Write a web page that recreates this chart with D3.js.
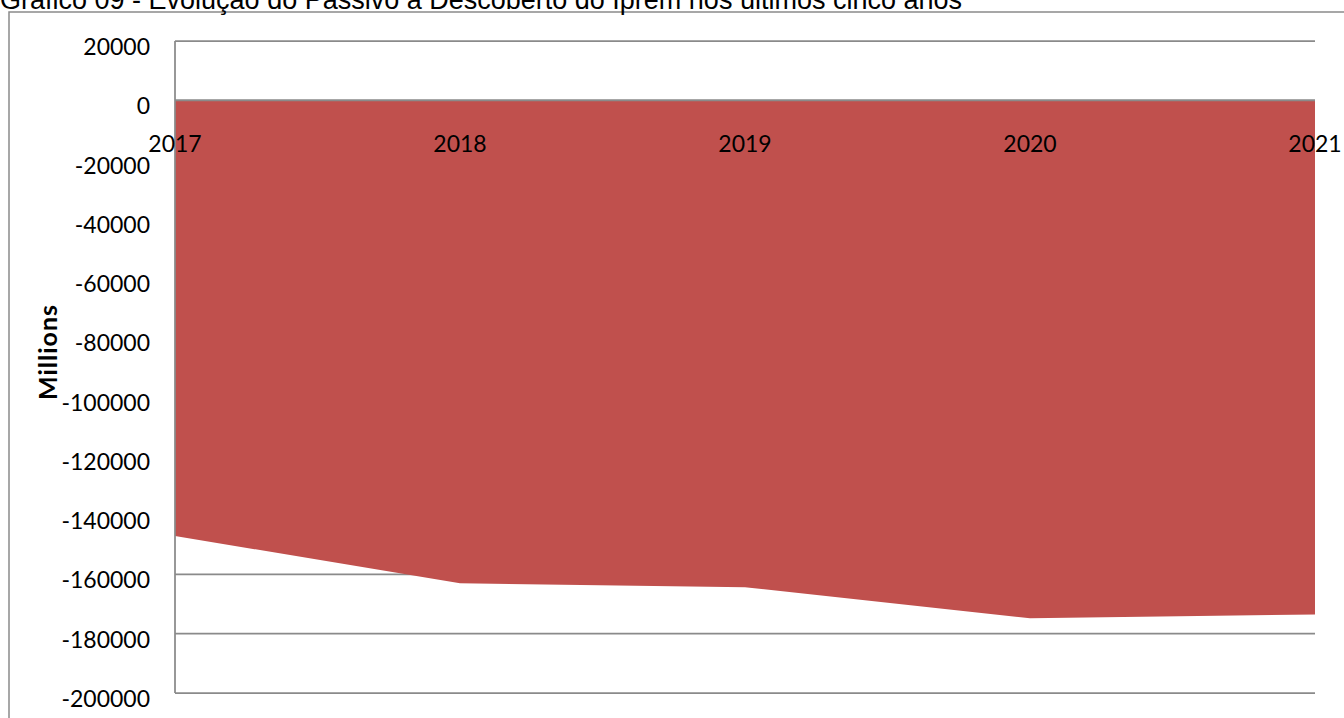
<!DOCTYPE html>
<html>
<head>
<meta charset="utf-8">
<script src="https://cdn.jsdelivr.net/npm/d3@7"></script>
<style>
  html, body { margin: 0; padding: 0; background: #fff; overflow: hidden; }
  svg { display: block; }
</style>
</head>
<body>
<script>
// Passivo a descoberto (em milhões), 2017–2021
const years = ["2017", "2018", "2019", "2020", "2021"];
const passivo = [-147000, -163000, -164300, -174800, -173500];
const yTicks = [20000, 0, -20000, -40000, -60000, -80000, -100000, -120000, -140000, -160000, -180000, -200000];
const titleText = "Gráfico 09 - Evolução do Passivo a Descoberto do Iprem nos últimos cinco anos";
const yAxisTitle = "Millions";

const W = 1344, H = 718;
const svg = d3.select("body").append("svg").attr("width", W).attr("height", H);

const plot = { left: 175, right: 1315, top: 41, bottom: 693 };
const gridColor = "#8a8a8a";
const numFont = "Lato, 'Open Sans', sans-serif";

const x = d3.scalePoint().domain(years).range([plot.left, plot.right]);
const y = d3.scaleLinear().domain([-200000, 20000]).range([plot.bottom, plot.top]);

// chart frame
svg.append("rect")
  .attr("x", 9).attr("y", 12)
  .attr("width", W + 20).attr("height", H + 20)
  .attr("fill", "none").attr("stroke", gridColor).attr("stroke-width", 1.5);

// title
svg.append("text")
  .attr("x", 0).attr("y", 9)
  .attr("font-family", "'Liberation Sans', Arial, sans-serif")
  .attr("font-size", 27)
  .attr("fill", "#000")
  .text(titleText);

// horizontal gridlines
svg.append("g").selectAll("line").data(yTicks).join("line")
  .attr("x1", plot.left).attr("x2", plot.right)
  .attr("y1", d => y(d)).attr("y2", d => y(d))
  .attr("stroke", gridColor).attr("stroke-width", 1.75);

// area between zero and the series
const area = d3.area()
  .x((d, i) => x(years[i]))
  .y0(() => y(0))
  .y1(d => y(d));
svg.append("path")
  .datum(passivo)
  .attr("d", area)
  .attr("fill", "#C0504D");

// zero line / category axis
svg.append("line")
  .attr("x1", plot.left).attr("x2", plot.right)
  .attr("y1", y(0)).attr("y2", y(0))
  .attr("stroke", gridColor).attr("stroke-width", 1.75);

// value axis line
svg.append("line")
  .attr("x1", plot.left).attr("x2", plot.left)
  .attr("y1", plot.top).attr("y2", plot.bottom)
  .attr("stroke", gridColor).attr("stroke-width", 1.75);

// y tick labels (plain hyphen for negatives)
svg.append("g").selectAll("text").data(yTicks).join("text")
  .attr("x", 150)
  .attr("y", d => y(d) + 14)
  .attr("text-anchor", "end")
  .attr("font-family", numFont)
  .attr("font-size", 23)
  .attr("fill", "#000")
  .text(d => String(d));

// category labels
svg.append("g").selectAll("text").data(years).join("text")
  .attr("x", d => x(d))
  .attr("y", y(0) + 52)
  .attr("text-anchor", "middle")
  .attr("font-family", numFont)
  .attr("font-size", 23)
  .attr("fill", "#000")
  .text(d => d);

// y axis title
svg.append("text")
  .attr("transform", "translate(57, 352) rotate(-90)")
  .attr("text-anchor", "middle")
  .attr("font-family", numFont)
  .attr("font-weight", "bold")
  .attr("font-size", 25)
  .attr("letter-spacing", 1)
  .attr("fill", "#000")
  .text(yAxisTitle);
</script>
</body>
</html>
